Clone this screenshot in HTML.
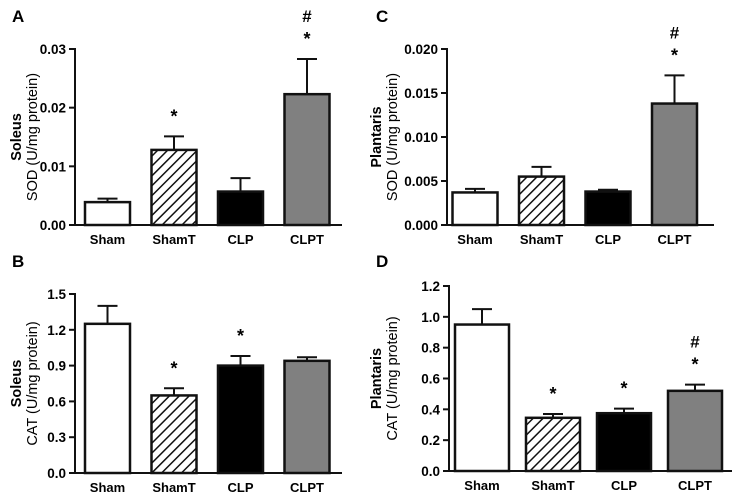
<!DOCTYPE html>
<html><head><meta charset="utf-8"><style>
html,body{margin:0;padding:0;background:#fff;}
svg{display:block;font-family:"Liberation Sans",Arial,sans-serif;}
</style></head><body>
<svg id="c" width="737" height="495" viewBox="0 0 737 495">
<defs><pattern id="hatch" patternUnits="userSpaceOnUse" width="7" height="7" patternTransform="rotate(45)"><rect width="7" height="7" fill="#fff"/><line x1="0" y1="0" x2="0" y2="7" stroke="#111" stroke-width="3"/></pattern></defs>
</svg>
<script>
const categories=["Sham","ShamT","CLP","CLPT"];
const sodSoleus=[0.0039,0.0128,0.0057,0.0223];
const sodSoleusErr=[0.0006,0.0023,0.0023,0.006];
const catSoleus=[1.25,0.65,0.90,0.94];
const catSoleusErr=[0.15,0.06,0.08,0.03];
const sodPlantaris=[0.0037,0.0055,0.0038,0.0138];
const sodPlantarisErr=[0.0004,0.0011,0.0002,0.0032];
const catPlantaris=[0.95,0.345,0.375,0.52];
const catPlantarisErr=[0.10,0.025,0.03,0.04];
const ticksA=["0.00","0.01","0.02","0.03"];
const ticksB=["0.0","0.3","0.6","0.9","1.2","1.5"];
const ticksC=["0.000","0.005","0.010","0.015","0.020"];
const ticksD=["0.0","0.2","0.4","0.6","0.8","1.0","1.2"];
const marksA=["","*","","*#"];
const marksB=["","*","*",""];
const marksC=["","","","*#"];
const marksD=["","*","*","*#"];
const fills=["#fff","url(#hatch)","#000","#808080"];
const svg=document.getElementById('c');
const NS="http://www.w3.org/2000/svg";
function mk(tag,attrs,parent){const e=document.createElementNS(NS,tag);for(const k in attrs)e.setAttribute(k,attrs[k]);(parent||svg).appendChild(e);return e;}
function panel(p){
 const g=mk('g',{});
 
 
 const ymax=parseFloat(p.ticks[p.ticks.length-1]);
 const y=v=>p.y0-(v/ymax)*(p.y0-p.y1);
 const L=mk('text',{x:p.lx,y:p.ly,'font-size':17,'font-weight':'bold'},g);L.textContent=p.id;
 
 
 categories.forEach((c,i)=>{
  const cx=p.c0+i*p.sp;
  const v=p.vals[i],e=p.errs[i];
  const ln=mk('line',{x1:cx,x2:cx,y1:y(v),y2:y(v+e),stroke:'#111','stroke-width':2},g);
  
  
  mk('line',{x1:cx-10,x2:cx+10,y1:y(v+e),y2:y(v+e),stroke:'#111','stroke-width':2},g);
  const r=mk('rect',{x:cx-p.bw/2,y:y(v),width:p.bw,height:p.y0-y(v),fill:fills[i],stroke:'#111','stroke-width':2.5},g);
  
  
  const t=mk('text',{x:cx,y:p.y0+19,'font-size':13,'font-weight':'bold','text-anchor':'middle'},g);t.textContent=c;
  
  
  const m=p.marks[i];
  if(m.includes('*')){const s=mk('text',{x:cx,y:y(v+e)-p.sg,'font-size':18,'font-weight':'bold','text-anchor':'middle'},g);s.textContent='*';
   
   }
  if(m.includes('#')){const s=mk('text',{x:cx,y:y(v+e)-p.sg-23,'font-size':17,'font-weight':'bold','text-anchor':'middle'},g);s.textContent='#';
   
   }
 });
 const ya=mk('line',{x1:p.ax,x2:p.ax,y1:p.y1-1,y2:p.y0,stroke:'#111','stroke-width':2},g);
 
 
 const xa=mk('line',{x1:p.ax-6,x2:p.xe,y1:p.y0,y2:p.y0,stroke:'#111','stroke-width':2},g);
 
 
 p.ticks.forEach(tk=>{
  const ty=y(parseFloat(tk));
  mk('line',{x1:p.ax-6,x2:p.ax,y1:ty,y2:ty,stroke:'#111','stroke-width':2},g);
  const t=mk('text',{x:p.ax-9,y:ty+5,'font-size':13.5,'font-weight':'bold','text-anchor':'end'},g);t.textContent=tk;
  
  
 });
 const my=(p.y0+p.y1)/2;
 const t1=mk('text',{x:0,y:0,'font-size':14.5,'font-weight':'bold','text-anchor':'middle',transform:`translate(${p.tx},${my}) rotate(-90)`},g);t1.textContent=p.muscle;
 
 
 const t2=mk('text',{x:0,y:0,'font-size':14.5,'text-anchor':'middle',transform:`translate(${p.tx+16},${my}) rotate(-90)`},g);t2.textContent=p.unit;
 
 
}
panel({id:'A',lx:12,ly:22,ax:75,xe:342,y0:225,y1:49,c0:107.5,sp:66.5,bw:45,vals:sodSoleus,errs:sodSoleusErr,ticks:ticksA,marks:marksA,sg:14,muscle:'Soleus',unit:'SOD (U/mg protein)',tx:21});
panel({id:'B',lx:12,ly:267,ax:75,xe:342,y0:473,y1:294,c0:107.5,sp:66.5,bw:45,vals:catSoleus,errs:catSoleusErr,ticks:ticksB,marks:marksB,sg:14,muscle:'Soleus',unit:'CAT (U/mg protein)',tx:21});
panel({id:'C',lx:376,ly:22,ax:447,xe:714,y0:225,y1:49,c0:475,sp:66.5,bw:45,vals:sodPlantaris,errs:sodPlantarisErr,ticks:ticksC,marks:marksC,sg:14,muscle:'Plantaris',unit:'SOD (U/mg protein)',tx:381});
panel({id:'D',lx:376,ly:267,ax:449,xe:732,y0:471,y1:286,c0:482,sp:71,bw:54,vals:catPlantaris,errs:catPlantarisErr,ticks:ticksD,marks:marksD,sg:14,muscle:'Plantaris',unit:'CAT (U/mg protein)',tx:381});
</script>
</body></html>
